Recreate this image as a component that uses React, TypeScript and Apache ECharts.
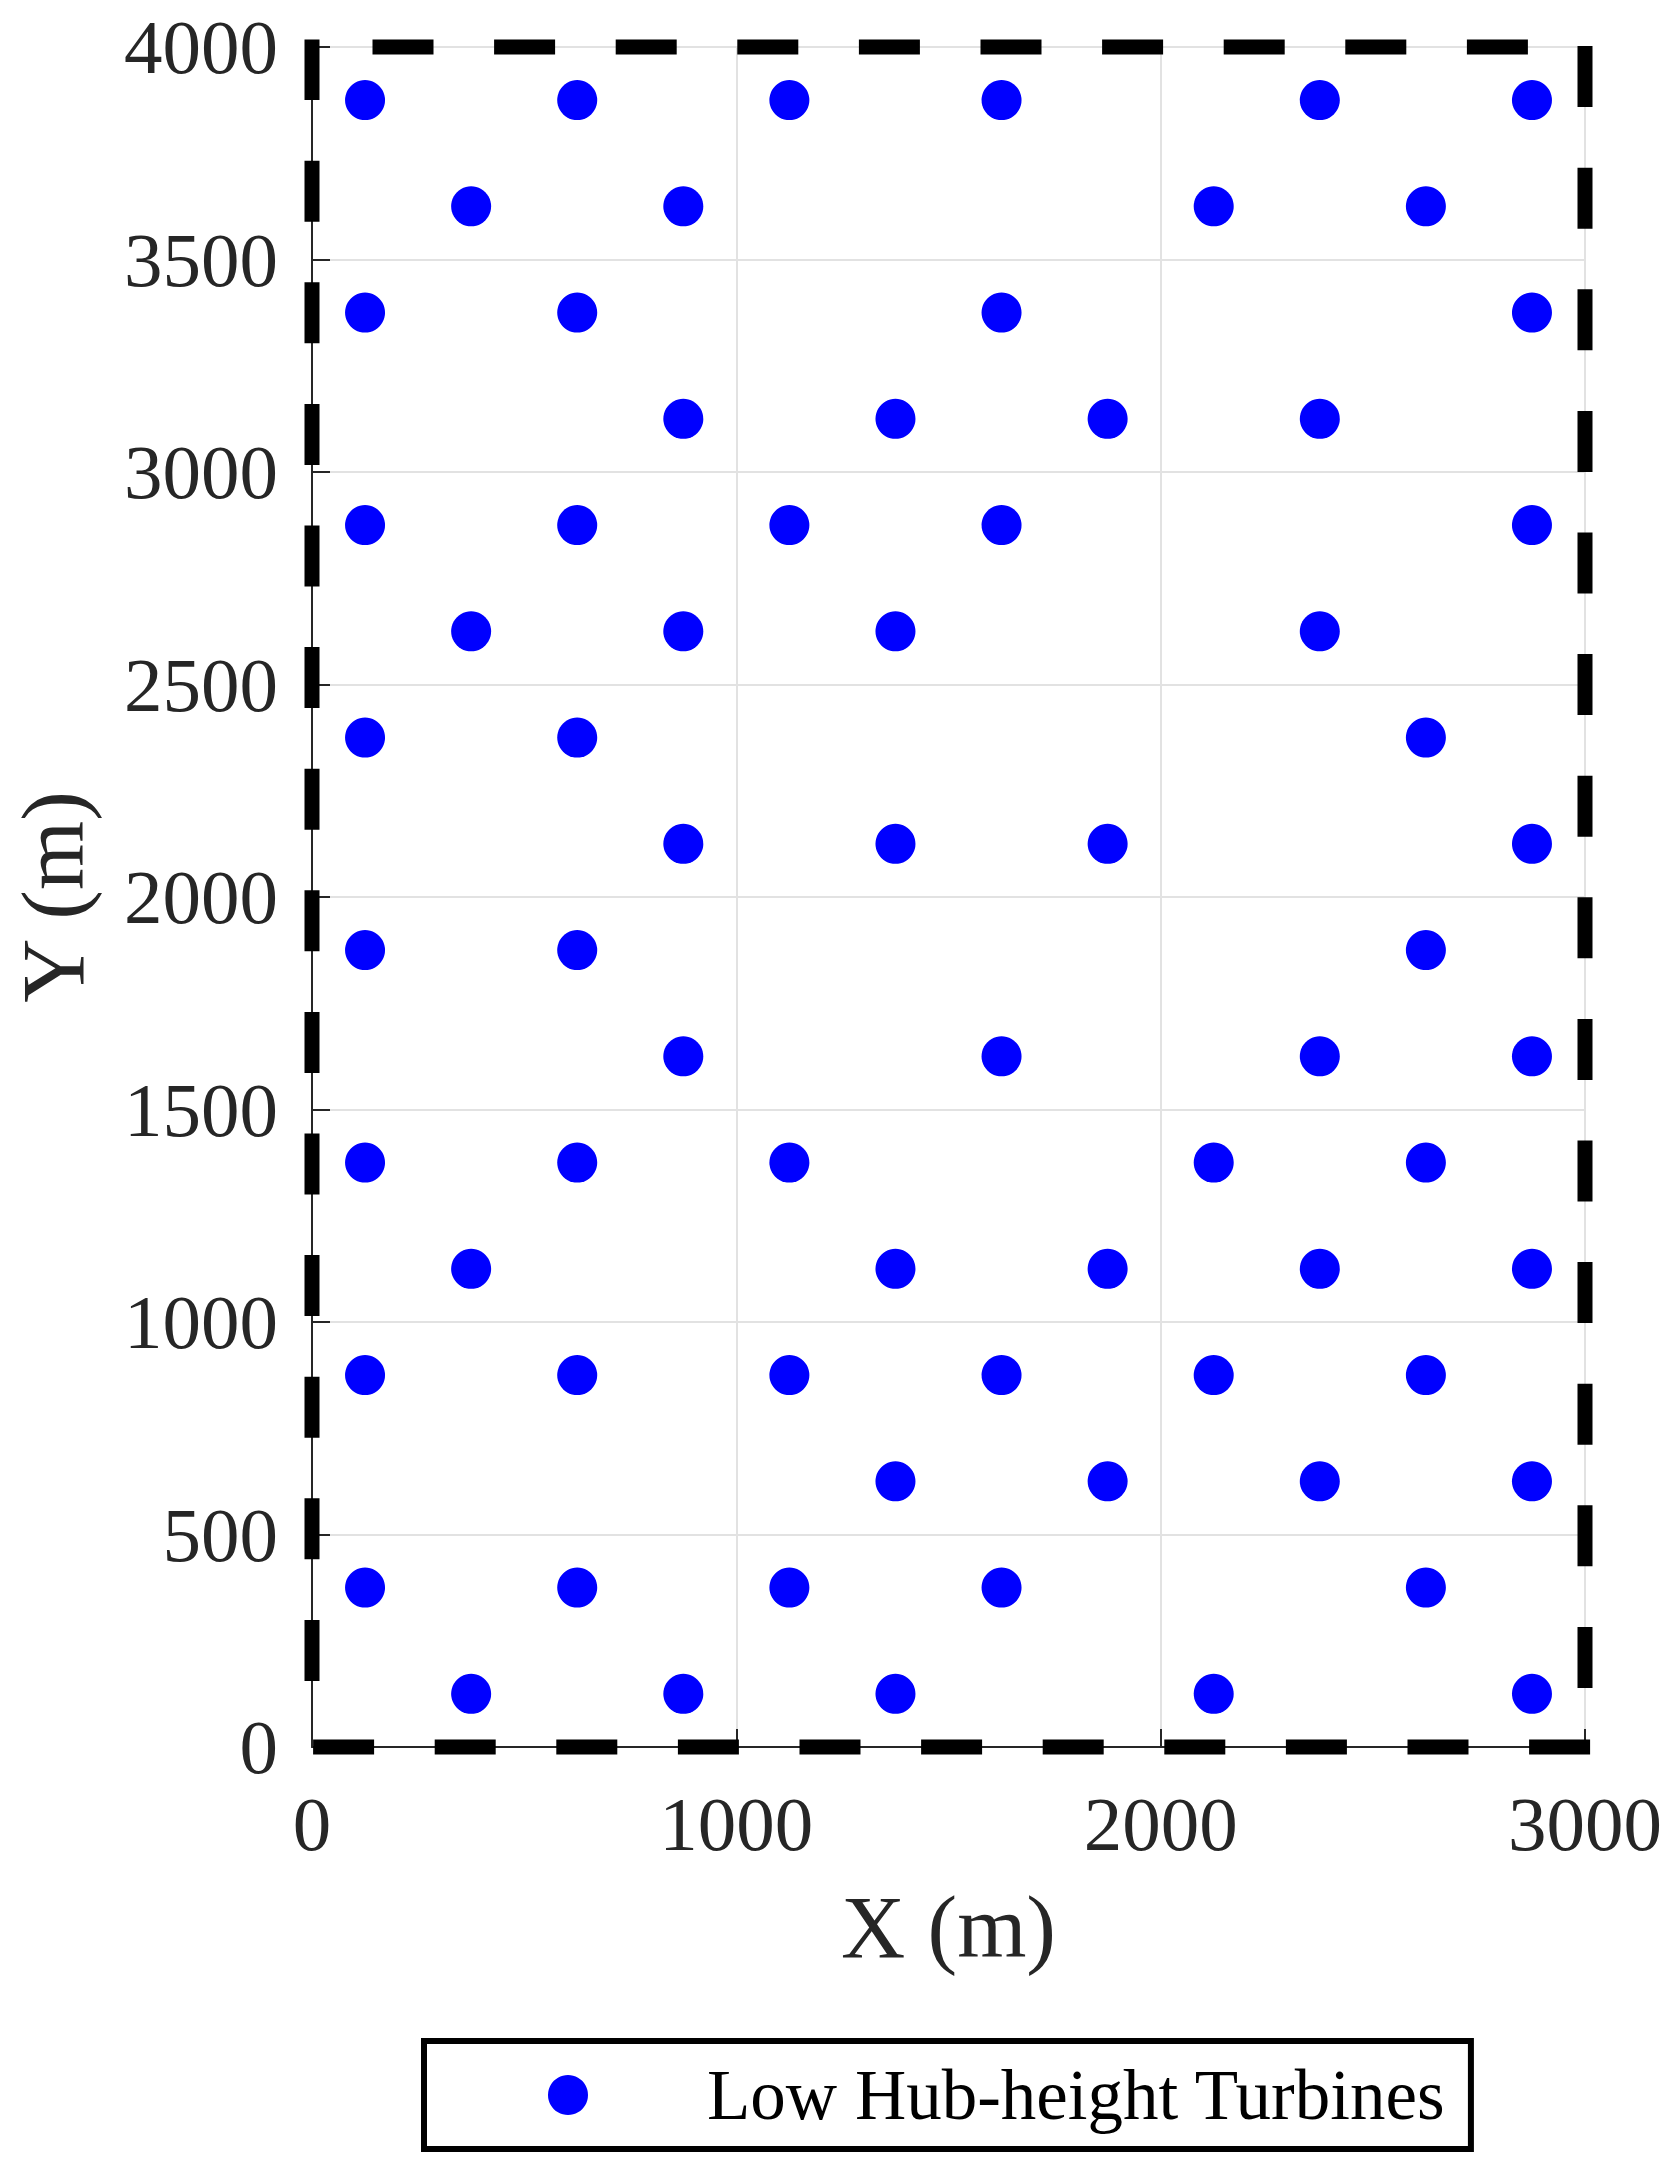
import React, { useEffect, useRef } from "react";
import * as echarts from "echarts";

// Turbine rows: y position of each row (m) and the x positions (m) of the turbines in it
const rowY = [3875, 3625, 3375, 3125, 2875, 2625, 2375, 2125, 1875, 1625, 1375, 1125, 875, 625, 375, 125];
const rowX = [
  [125, 625, 1125, 1625, 2375, 2875],
  [375, 875, 2125, 2625],
  [125, 625, 1625, 2875],
  [875, 1375, 1875, 2375],
  [125, 625, 1125, 1625, 2875],
  [375, 875, 1375, 2375],
  [125, 625, 2625],
  [875, 1375, 1875, 2875],
  [125, 625, 2625],
  [875, 1625, 2375, 2875],
  [125, 625, 1125, 2125, 2625],
  [375, 1375, 1875, 2375, 2875],
  [125, 625, 1125, 1625, 2125, 2625],
  [1375, 1875, 2375, 2875],
  [125, 625, 1125, 1625, 2625],
  [375, 875, 1375, 2125, 2875],
];

// Site boundary (m)
const boundaryX = [0, 3000];
const boundaryY = [0, 4000];

// Axis ranges / ticks
const xMin = 0, xMax = 3000, xStep = 1000;
const yMin = 0, yMax = 4000, yStep = 500;

const seriesName = "Low Hub-height Turbines";
const xTitle = "X (m)";
const yTitle = "Y (m)";

const FONT = "'Liberation Serif', 'Times New Roman', Times, serif";
const TEXT = "#262626";

export default function App() {
  const ref = useRef<HTMLDivElement>(null);

  useEffect(() => {
    if (!ref.current) return;
    const chart = echarts.init(ref.current, null, { renderer: "svg" });

    const turbines: number[][] = [];
    rowY.forEach((y, i) => rowX[i].forEach((x) => turbines.push([x, y])));

    const [x0, x1] = boundaryX;
    const [y0, y1] = boundaryY;
    const P = 121.6;
    const dash = [46, P - 46];
    const edge = (data: number[][], offset: number) => ({
      type: "line",
      data,
      symbol: "none",
      clip: false,
      silent: true,
      z: 5,
      lineStyle: { color: "#000", width: 15, type: dash, dashOffset: offset, cap: "square" },
    });

    const axisCommon = {
      type: "value",
      axisLine: { show: true, onZero: false, lineStyle: { color: TEXT, width: 2 } },
      axisTick: { show: true, inside: true, length: 18, lineStyle: { color: TEXT, width: 2 } },
      splitLine: { show: true, lineStyle: { color: "#e2e2e2", width: 2 } },
      axisLabel: {
        fontFamily: FONT,
        fontSize: 77,
        color: TEXT,
        formatter: (v: number) => String(v),
      },
      nameTextStyle: { fontFamily: FONT, fontSize: 89, color: TEXT },
    };

    chart.setOption({
      animation: false,
      backgroundColor: "#fff",
      grid: { left: 309, top: 47, width: 1276, height: 1700, containLabel: false },
      xAxis: {
        ...axisCommon,
        min: xMin,
        max: xMax,
        interval: xStep,
        name: xTitle,
        nameLocation: "middle",
        nameGap: 135,
        axisLabel: { ...axisCommon.axisLabel, margin: 38 },
      },
      yAxis: {
        ...axisCommon,
        min: yMin,
        max: yMax,
        interval: yStep,
        name: yTitle,
        nameLocation: "middle",
        nameGap: 215,
        axisLabel: { ...axisCommon.axisLabel, margin: 34 },
      },
      legend: {
        data: [seriesName],
        left: 424,
        top: 2041,
        orient: "horizontal",
        padding: [18, 25, 18, 124],
        itemWidth: 40,
        itemHeight: 40,
        icon: "circle",
        borderColor: "#000",
        borderWidth: 6,
        backgroundColor: "#fff",
        textStyle: {
          fontFamily: FONT,
          fontSize: 71,
          lineHeight: 72,
          color: "#000",
          padding: [0, 0, 0, 114],
        },
      },
      series: [
        {
          name: seriesName,
          type: "scatter",
          data: turbines,
          symbol: "circle",
          symbolSize: 40,
          itemStyle: { color: "#0000ff", opacity: 1 },
          z: 3,
        },
        edge([[x0, y1], [x0, y0]], P - 0),
        edge([[x0, y0], [x1, y0]], P - 8.5),
        edge([[x1, y0], [x1, y1]], P - 66.5),
        edge([[x1, y1], [x0, y1]], P - 64.5),
      ],
    });

    return () => chart.dispose();
  }, []);

  return (
    <div
      ref={ref}
      style={{ position: "absolute", left: 0, top: 0, width: 1679, height: 2166 }}
    />
  );
}
